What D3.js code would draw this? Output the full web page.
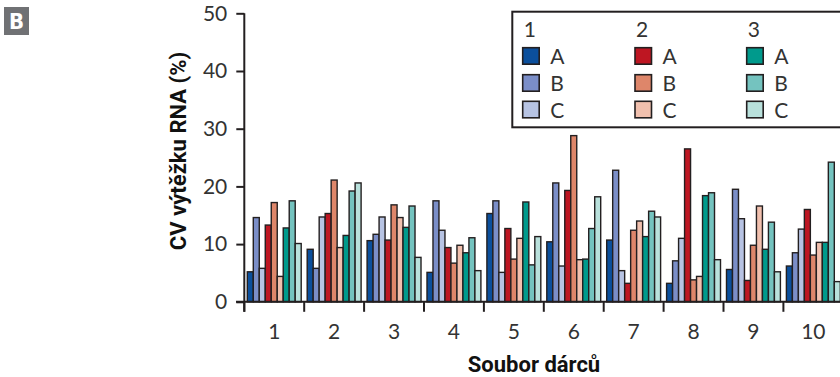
<!DOCTYPE html>
<html><head><meta charset="utf-8">
<script src="https://cdn.jsdelivr.net/npm/d3@7"></script>
<style>
html,body{margin:0;padding:0;background:#fff;}
svg{display:block;}
</style></head>
<body>
<svg id="chart" width="840" height="377"></svg>
<script>
const groups = ["1","2","3","4","5","6","7","8","9","10"];
const seriesKeys = ["1A","1B","1C","2A","2B","2C","3A","3B","3C"];
const s1A = [5.2, 9.1, 10.6, 5.1, 15.3, 10.4, 10.7, 3.2, 5.6, 6.2];
const s1B = [14.6, 5.8, 11.7, 17.5, 17.5, 20.6, 22.8, 7.1, 19.5, 8.5];
const s1C = [5.8, 14.7, 14.7, 12.4, 5.1, 6.2, 5.4, 11.0, 14.4, 12.6];
const s2A = [13.3, 15.3, 10.7, 9.4, 12.7, 19.3, 3.2, 26.5, 3.7, 16.0];
const s2B = [17.2, 21.1, 16.8, 6.7, 7.4, 28.8, 12.4, 3.8, 9.8, 8.1];
const s2C = [4.4, 9.4, 14.6, 9.8, 11.0, 7.3, 14.0, 4.4, 16.6, 10.3];
const s3A = [12.8, 11.5, 12.9, 8.5, 17.3, 7.4, 11.3, 18.4, 9.1, 10.3];
const s3B = [17.5, 19.2, 16.6, 11.1, 6.4, 12.7, 15.7, 18.9, 13.8, 24.2];
const s3C = [10.1, 20.6, 7.7, 5.4, 11.3, 18.2, 14.7, 7.3, 5.2, 3.5];
const yTicks = [0, 10, 20, 30, 40, 50];
const legendHeaders = ["1","2","3"];
const legendLetters = ["A","B","C"];
const colors = ["#0b4f9c","#7b8ec8","#b7c3e3","#be1622","#de866a","#f1c0ae","#009a8c","#74c3bf","#b9e1dc"];

const seriesValues = [s1A,s1B,s1C,s2A,s2B,s2C,s3A,s3B,s3C];
const table = groups.map((g,i)=>({group:g, values: seriesKeys.map((k,j)=>({key:k, idx:j, value:seriesValues[j][i]}))}));

const svg = d3.select("#chart");
const ink = "#231f20";

const x0 = d3.scaleBand().domain(groups).range([244.3, 843.3]).paddingInner(0.1).paddingOuter(0.05);
const x1 = d3.scaleBand().domain(seriesKeys).range([0, x0.bandwidth()]);
const y = d3.scaleLinear().domain([0,50]).range([301.8, 13.3]);
const color = d3.scaleOrdinal().domain(seriesKeys).range(colors);

// bars
const g = svg.append("g");
g.selectAll("g.grp").data(table).join("g").attr("class","grp")
  .attr("transform", d=>`translate(${x0(d.group)},0)`)
  .selectAll("rect").data(d=>d.values).join("rect")
  .attr("x", d=>x1(d.key))
  .attr("width", x1.bandwidth())
  .attr("y", d=>y(d.value))
  .attr("height", d=>y(0)-y(d.value))
  .attr("fill", d=>color(d.key))
  .attr("stroke", ink).attr("stroke-width", 1.4);

// y axis
const yAxis = d3.axisLeft(y).tickValues(yTicks).tickSize(8).tickPadding(9);
const ya = svg.append("g").attr("transform","translate(244.3,0)").call(yAxis);
ya.select(".domain").attr("stroke", ink).attr("stroke-width", 2).attr("d", `M0,${y(50)}V${y(0)+10}`);
ya.selectAll(".tick line").attr("stroke", ink).attr("stroke-width", 2);
ya.selectAll(".tick text").attr("fill","#333").style("font-family","Lato, 'Open Sans', sans-serif").style("font-size","21px");

// x axis
const xAxis = d3.axisBottom(x0).tickSize(0).tickPadding(22);
const xa = svg.append("g").attr("transform",`translate(0,${y(0)})`).call(xAxis);
xa.select(".domain").attr("stroke", ink).attr("stroke-width", 2).attr("d", `M236,0H840`);
xa.selectAll(".tick text").attr("fill","#333").style("font-family","Lato, 'Open Sans', sans-serif").style("font-size","21px");
// group boundary ticks
const bounds = groups.map(gk => x0(gk) - x0.step()*x0.paddingInner()/2);
xa.selectAll("line.bound").data(bounds).join("line").attr("class","bound")
  .attr("x1", d=>d).attr("x2", d=>d).attr("y1",0).attr("y2",10)
  .attr("stroke", ink).attr("stroke-width", 2);

// axis titles
svg.append("text").attr("transform","translate(186,151) rotate(-90)")
  .attr("text-anchor","middle").attr("fill","#111")
  .style("font-family","Roboto, 'Liberation Sans', sans-serif").style("font-weight","700").style("font-size","22px")
  .text("CV výtěžku RNA (%)");
svg.append("text").attr("x",534).attr("y",372)
  .attr("text-anchor","middle").attr("fill","#111")
  .style("font-family","Roboto, 'Liberation Sans', sans-serif").style("font-weight","700").style("font-size","22px")
  .text("Soubor dárců");

// panel letter
svg.append("rect").attr("x",4).attr("y",7).attr("width",25).attr("height",28).attr("fill","#707174");
svg.append("text").attr("x",16.5).attr("y",29).attr("text-anchor","middle").attr("fill","#fff")
  .style("font-family","'DejaVu Sans Condensed','Liberation Sans',sans-serif").style("font-weight","700").style("font-size","22px")
  .text("B");

// legend
const lg = svg.append("g");
lg.append("rect").attr("x",512.3).attr("y",11.7).attr("width",360).attr("height",115.6)
  .attr("fill","#fff").attr("stroke",ink).attr("stroke-width",2);
const colX = [522.7, 635, 746.7];
const rowY = [47.7, 74.7, 101.3];
legendHeaders.forEach((h,ci)=>{
  lg.append("text").attr("x", colX[ci]+1).attr("y", 36.7).attr("fill","#333")
    .style("font-family","Lato, 'Open Sans', sans-serif").style("font-size","21px").text(h);
  legendLetters.forEach((l,ri)=>{
    const key = h + l;
    lg.append("rect").attr("x", colX[ci]).attr("y", rowY[ri]).attr("width",16.5).attr("height",16.5)
      .attr("fill", color(key)).attr("stroke", ink).attr("stroke-width",1.6);
    lg.append("text").attr("x", colX[ci]+27.5).attr("y", rowY[ri]+16.3).attr("fill","#333")
      .style("font-family","Lato, 'Open Sans', sans-serif").style("font-size","21px").text(l);
  });
});
</script>
</body></html>
